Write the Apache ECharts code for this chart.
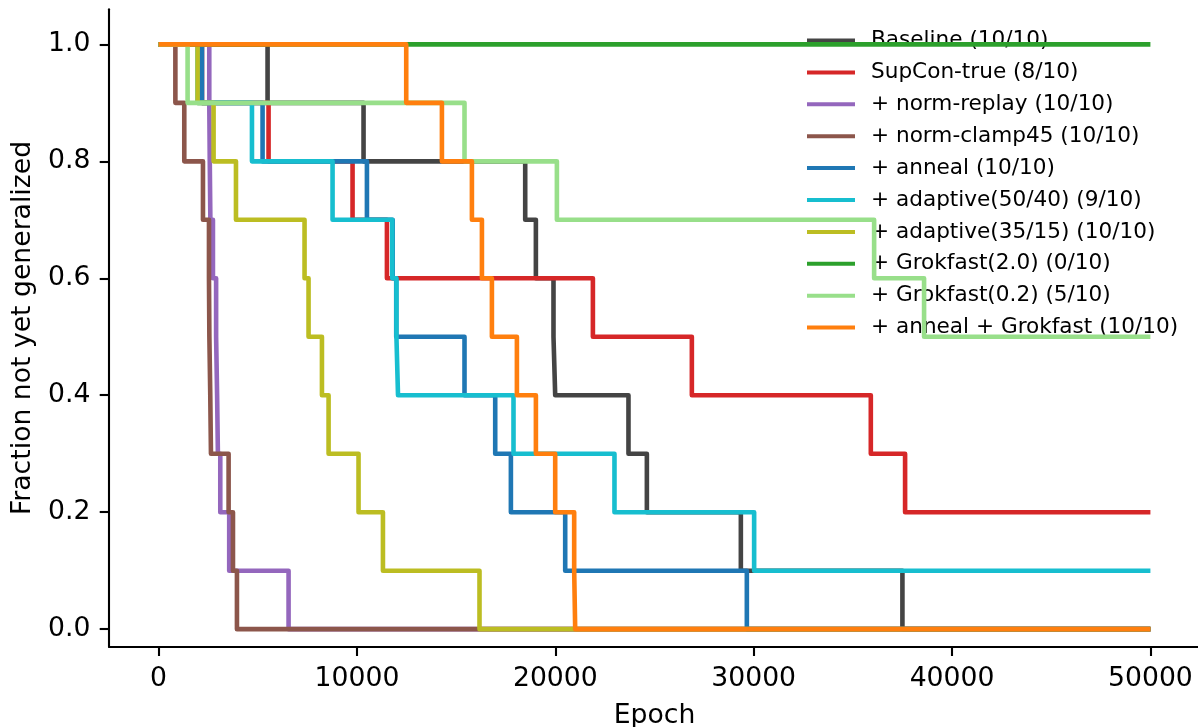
<!DOCTYPE html>
<html>
<head>
<meta charset="utf-8">
<script src="https://cdn.jsdelivr.net/npm/echarts@6/dist/echarts.min.js"></script>
<style>
  html, body { margin: 0; padding: 0; background: #fff; }
  #chart { width: 1198px; height: 727px; }
</style>
</head>
<body>
<div id="chart"></div>
<script>
// [epoch, fraction not yet generalized]
const baseline = [[0, 1.0], [5494, 0.9], [10332, 0.8], [18482, 0.7], [19020, 0.6], [19908, 0.5], [19994, 0.4], [23688, 0.3], [24615, 0.2], [29353, 0.1], [37498, 0.0], [50000, 0.0]];
const supconTrue = [[0, 1.0], [2187, 0.9], [5544, 0.8], [9778, 0.7], [11511, 0.6], [21894, 0.5], [26883, 0.4], [35905, 0.3], [37633, 0.2], [50000, 0.2]];
const normReplay = [[0, 1.0], [2555, 0.9], [2580, 0.8], [2610, 0.7], [2740, 0.6], [2900, 0.5], [2950, 0.4], [2990, 0.3], [3110, 0.2], [3560, 0.1], [6553, 0.0], [50000, 0.0]];
const normClamp45 = [[0, 1.0], [846, 0.9], [1295, 0.8], [2237, 0.7], [2540, 0.6], [2560, 0.5], [2605, 0.4], [2640, 0.3], [3530, 0.2], [3750, 0.1], [3950, 0.0], [50000, 0.0]];
const anneal = [[0, 1.0], [2187, 0.9], [5242, 0.8], [10503, 0.7], [11800, 0.6], [11980, 0.5], [15422, 0.4], [16970, 0.3], [17760, 0.2], [20498, 0.1], [29655, 0.0], [50000, 0.0]];
const adaptive5040 = [[0, 1.0], [1966, 0.9], [4707, 0.8], [8770, 0.7], [11780, 0.6], [11990, 0.5], [12070, 0.4], [17892, 0.3], [22982, 0.2], [30023, 0.1], [50000, 0.1]];
const adaptive3515 = [[0, 1.0], [1966, 0.9], [2772, 0.8], [3901, 0.7], [7358, 0.6], [7560, 0.5], [8235, 0.4], [8570, 0.3], [10080, 0.2], [11310, 0.1], [16178, 0.0], [50000, 0.0]];
const grokfast20 = [[0, 1.0], [50000, 1.0]];
const grokfast02 = [[0, 1.0], [1462, 0.9], [15422, 0.8], [20079, 0.7], [36072, 0.6], [38590, 0.5], [50000, 0.5]];
const annealGrokfast = [[0, 1.0], [12484, 0.9], [14283, 0.8], [15795, 0.7], [16300, 0.6], [16803, 0.5], [18063, 0.4], [19021, 0.3], [19994, 0.2], [20951, 0.1], [21002, 0.0], [50000, 0.0]];

const seriesNames = [
  "Baseline (10/10)",
  "SupCon-true (8/10)",
  "+ norm-replay (10/10)",
  "+ norm-clamp45 (10/10)",
  "+ anneal (10/10)",
  "+ adaptive(50/40) (9/10)",
  "+ adaptive(35/15) (10/10)",
  "+ Grokfast(2.0) (0/10)",
  "+ Grokfast(0.2) (5/10)",
  "+ anneal + Grokfast (10/10)"
];
const seriesData = [baseline, supconTrue, normReplay, normClamp45, anneal, adaptive5040, adaptive3515, grokfast20, grokfast02, annealGrokfast];
const seriesColors = ["#444444", "#d62728", "#9467bd", "#8c564b", "#1f77b4", "#17becf", "#bcbd22", "#2ca02c", "#98df8a", "#ff7f0e"];

const xTicks = [0, 10000, 20000, 30000, 40000, 50000];
const yTicks = [0.0, 0.2, 0.4, 0.6, 0.8, 1.0];

const font = "DejaVu Sans";
const chart = echarts.init(document.getElementById("chart"));

const option = {
  animation: false,
  textStyle: { fontFamily: font },
  grid: { left: 109, top: 9.3, width: 1091, height: 637.4, outerBoundsMode: "none" },
  legend: {
    orient: "vertical",
    left: 802,
    top: 24.5,
    itemWidth: 48,
    itemHeight: 4,
    itemGap: 9.9,
    icon: "rect",
    data: seriesNames,
    textStyle: { fontFamily: font, fontSize: 21.6, lineHeight: 22, color: "#000", padding: [0, 0, 0, 11] }
  },
  xAxis: {
    type: "value",
    min: -2500,
    max: 52500,
    name: "Epoch",
    nameLocation: "middle",
    nameGap: 56,
    nameTextStyle: { fontFamily: font, fontSize: 26.67, color: "#000" },
    axisLine: { show: true, onZero: false, lineStyle: { color: "#000", width: 2.1 } },
    axisTick: { show: true, length: 9.3, lineStyle: { color: "#000", width: 2.1 }, customValues: xTicks },
    axisLabel: { fontFamily: font, fontSize: 26.67, color: "#000", margin: 19, customValues: xTicks, formatter: (v) => String(v) },
    splitLine: { show: false }
  },
  yAxis: {
    type: "value",
    min: -0.03,
    max: 1.06,
    name: "Fraction not yet generalized",
    nameLocation: "middle",
    nameGap: 72,
    nameTextStyle: { fontFamily: font, fontSize: 26.67, color: "#000" },
    axisLine: { show: true, onZero: false, lineStyle: { color: "#000", width: 2.1 } },
    axisTick: { show: true, length: 9.3, lineStyle: { color: "#000", width: 2.1 }, customValues: yTicks },
    axisLabel: {
      fontFamily: font, fontSize: 26.67, color: "#000", margin: 18.6, customValues: yTicks,
      formatter: (v) => v.toFixed(1)
    },
    splitLine: { show: false }
  },
  series: seriesNames.map((name, i) => ({
    name: name,
    type: "line",
    step: "end",
    symbol: "none",
    data: seriesData[i],
    color: seriesColors[i],
    lineStyle: { width: 4.6, color: seriesColors[i], join: "round" },
    z: 2 + i
  }))
};

chart.setOption(option);
</script>
</body>
</html>
